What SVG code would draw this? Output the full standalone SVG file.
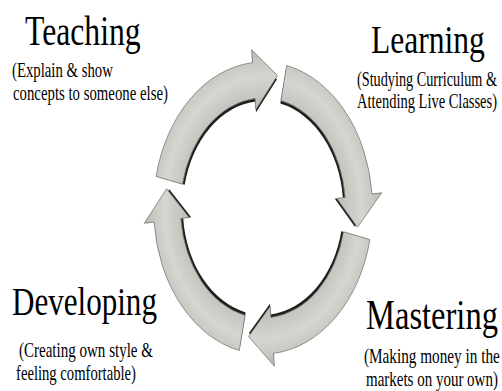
<svg xmlns="http://www.w3.org/2000/svg" xmlns:xlink="http://www.w3.org/1999/xlink" width="502" height="391" viewBox="0 0 502 391">
  <style>
    .title { font-family: "Liberation Serif", "Times New Roman", serif; fill: #000; }
    .sub { font-family: "Liberation Serif", "Times New Roman", serif; font-size: 21px; fill: #000; }
    .arrow { fill: url(#ringFill); stroke: #7a7975; stroke-width: 0.8; stroke-linejoin: round; }
    .shadow { fill: #1e1e1e; }
  </style>
  <defs>
    <radialGradient id="ringFill" gradientUnits="userSpaceOnUse" cx="263" cy="208" r="160" gradientTransform="translate(263,208) scale(0.75,1) translate(-263,-208)">
      <stop offset="0.6" stop-color="#bcbab5"/>
      <stop offset="0.72" stop-color="#cac8c2"/>
      <stop offset="0.82" stop-color="#d7d5cf"/>
      <stop offset="0.92" stop-color="#c9c7c1"/>
      <stop offset="1" stop-color="#b6b4af"/>
    </radialGradient>
    <path id="a1" d="M156.10,176.40 A109.5,146 0 0 1 252.50,62.67 L251.57,49.73 L277.41,75.5 L255.88,109.46 L255.09,98.51 A82.5,110 0 0 0 182.46,184.19 Z"/>
    <path id="a2" d="M286.70,65.46 A109.5,146 0 0 1 372.00,194.01 L381.70,192.76 L357.5,227.22 L336.91,198.51 L345.12,197.46 A82.5,110 0 0 0 280.86,100.61 Z"/>
    <path id="a3" d="M369.90,239.60 A109.5,146 0 0 1 273.50,353.33 L274.43,366.27 L248.59,336.57 L270.12,306.54 L270.91,317.49 A82.5,110 0 0 0 343.54,231.81 Z"/>
    <path id="a4" d="M239.30,350.54 A109.5,146 0 0 1 154.00,221.99 L144.30,223.24 L166.57,188.78 L189.09,217.49 L180.88,218.54 A82.5,110 0 0 0 245.14,315.39 Z"/>
  </defs>

  <rect width="502" height="391" fill="#ffffff"/>

  <g id="connectors">
    <g transform="translate(263,208) scale(0.972) translate(-263,-208)">
      <use xlink:href="#a1" href="#a1" class="shadow"/>
      <use xlink:href="#a2" href="#a2" class="shadow"/>
      <use xlink:href="#a3" href="#a3" class="shadow"/>
      <use xlink:href="#a4" href="#a4" class="shadow"/>
    </g>
    <use xlink:href="#a1" href="#a1" class="arrow"/>
    <use xlink:href="#a2" href="#a2" class="arrow"/>
    <use xlink:href="#a3" href="#a3" class="arrow"/>
    <use xlink:href="#a4" href="#a4" class="arrow"/>
  </g>

  <g id="teaching">
    <text class="title" font-size="42" transform="translate(25,45) scale(0.755,1)">Teaching</text>
    <text class="sub" transform="translate(12,77) scale(0.704,1)">(Explain &amp; show</text>
    <text class="sub" transform="translate(13,100) scale(0.705,1)">concepts to someone else)</text>
  </g>

  <g id="learning">
    <text class="title" font-size="40" transform="translate(371,53) scale(0.789,1)">Learning</text>
    <text class="sub" transform="translate(357,86) scale(0.678,1)">(Studying Curriculum &amp;</text>
    <text class="sub" transform="translate(357,108) scale(0.69,1)">Attending Live Classes)</text>
  </g>

  <g id="mastering">
    <text class="title" font-size="42" transform="translate(366,329) scale(0.775,1)">Mastering</text>
    <text class="sub" transform="translate(364,363) scale(0.726,1)">(Making money in the</text>
    <text class="sub" transform="translate(366,386) scale(0.714,1)">markets on your own)</text>
  </g>

  <g id="developing">
    <text class="title" font-size="40" transform="translate(12,315) scale(0.777,1)">Developing</text>
    <text class="sub" transform="translate(19,357) scale(0.716,1)">(Creating own style &amp;</text>
    <text class="sub" transform="translate(16,380) scale(0.698,1)">feeling comfortable)</text>
  </g>
</svg>
